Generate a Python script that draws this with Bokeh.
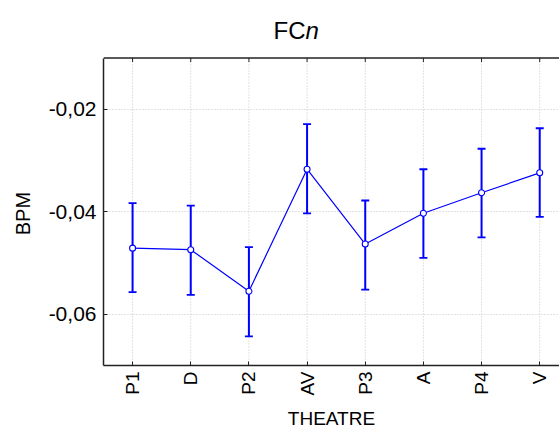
import math
from bokeh.plotting import figure
from bokeh.models import (ColumnDataSource, Whisker, TeeHead, FixedTicker,
                          CustomJSTickFormatter, Range1d, Label, Span)
from bokeh.embed import file_html
from bokeh.resources import INLINE

categories = ["P1", "D", "P2", "AV", "P3", "A", "P4", "V"]
means = [-0.0471, -0.0474, -0.0555, -0.0317, -0.0463, -0.0403, -0.0363, -0.0324]
lower = [-0.0557, -0.0562, -0.0643, -0.0403, -0.0552, -0.0490, -0.0450, -0.0410]
upper = [-0.0383, -0.0388, -0.0469, -0.0229, -0.0378, -0.0317, -0.0277, -0.0237]
y_ticks = [-0.06, -0.04, -0.02]
Y_MIN, Y_MAX = -0.07, -0.01

FONT = "Liberation Sans"
BLUE = "#0000ff"
AXIS = "#222222"

W, H = 559, 432
LEFT, BOTTOM, TOP_PAD = 103, 64, 58   # TOP_PAD: room for the title inside the frame
FRAME_H = H - BOTTOM
Y_END = Y_MIN + (Y_MAX - Y_MIN) * FRAME_H / (FRAME_H - TOP_PAD)

xs = list(range(len(categories)))
src = ColumnDataSource(dict(x=xs, mean=means, lower=lower, upper=upper))
grid_src = ColumnDataSource(dict(x=xs, y0=[Y_MIN] * len(xs), y1=[Y_MAX] * len(xs)))

p = figure(width=W, height=H, output_backend="svg", toolbar_location=None,
           x_range=Range1d(-0.5, 7.34), y_range=Range1d(Y_MIN, Y_END),
           min_border_left=LEFT, min_border_top=0, min_border_right=0, min_border_bottom=BOTTOM)
p.outline_line_color = None
p.background_fill_color = "white"
p.border_fill_color = "white"

# grids
p.xgrid.visible = False
p.ygrid.ticker = FixedTicker(ticks=y_ticks)
p.ygrid.grid_line_color = "#c4c4c4"
p.ygrid.grid_line_dash = "1 2"
p.segment(x0="x", y0="y0", x1="x", y1="y1", source=grid_src, level="underlay",
          line_color="#c4c4c4", line_dash="1 2", line_width=1)

# x axis
xa = p.xaxis[0]
xa.ticker = FixedTicker(ticks=xs)
xa.major_label_overrides = {i: c for i, c in enumerate(categories)}
xa.major_label_orientation = math.pi / 2
xa.major_label_text_font = FONT
xa.major_label_text_font_size = "19px"
xa.major_label_text_color = "black"
xa.major_label_standoff = 6
xa.axis_label = "THEATRE"
xa.axis_label_text_font = FONT
xa.axis_label_text_font_size = "19px"
xa.axis_label_text_font_style = "normal"
xa.axis_label_text_color = "black"
xa.axis_label_standoff = 10
xa.major_tick_in = 4
xa.major_tick_out = 0
xa.minor_tick_line_color = None
xa.axis_line_width = 1.5
xa.axis_line_color = AXIS
xa.major_tick_line_color = AXIS

# y axis (label padded with no-break spaces so it centres on the plotted area)
ya = p.yaxis[0]
ya.bounds = (Y_MIN, Y_MAX)
ya.ticker = FixedTicker(ticks=y_ticks)
ya.formatter = CustomJSTickFormatter(code="return tick.toFixed(2).replace('.', ',');")
ya.major_label_text_font = FONT
ya.major_label_text_font_size = "21px"
ya.major_label_text_color = "black"
ya.major_label_standoff = 7
ya.axis_label = "BPM" + "\u00a0" * 11
ya.axis_label_text_font = FONT
ya.axis_label_text_font_size = "20px"
ya.axis_label_text_font_style = "normal"
ya.axis_label_text_color = "black"
ya.axis_label_standoff = 12
ya.major_tick_in = 4
ya.major_tick_out = 0
ya.minor_tick_line_color = None
ya.axis_line_width = 1.5
ya.axis_line_color = AXIS
ya.major_tick_line_color = AXIS

# top border with inward ticks
p.add_layout(Span(location=Y_MAX, dimension="width", line_color=AXIS, line_width=1.5))
p.ray(x=xs, y=[Y_MAX] * len(xs), length=4, length_units="screen", angle=-math.pi / 2,
      line_color=AXIS, line_width=1)

# error bars
w = Whisker(source=src, base="x", upper="upper", lower="lower",
            line_color=BLUE, line_width=2,
            upper_head=TeeHead(size=8, line_color=BLUE, line_width=1.8),
            lower_head=TeeHead(size=8, line_color=BLUE, line_width=1.8))
p.add_layout(w)

p.line("x", "mean", source=src, line_color=BLUE, line_width=1.2)
p.scatter("x", "mean", source=src, size=6, fill_color="white", line_color=BLUE, line_width=1.1)

# title: "FC" + italic "n" (screen units, from the frame's bottom-left)
TX, TY = 202, FRAME_H - 33
p.add_layout(Label(x=TX, y=TY, x_units="screen", y_units="screen", text="FC",
                   text_align="right", text_baseline="alphabetic", text_font=FONT,
                   text_font_size="24px", text_color="black"))
p.add_layout(Label(x=TX, y=TY, x_units="screen", y_units="screen", text="n",
                   text_align="left", text_baseline="alphabetic", text_font=FONT,
                   text_font_size="24px", text_font_style="italic", text_color="black"))

open("out.html", "w").write(file_html(p, INLINE))
